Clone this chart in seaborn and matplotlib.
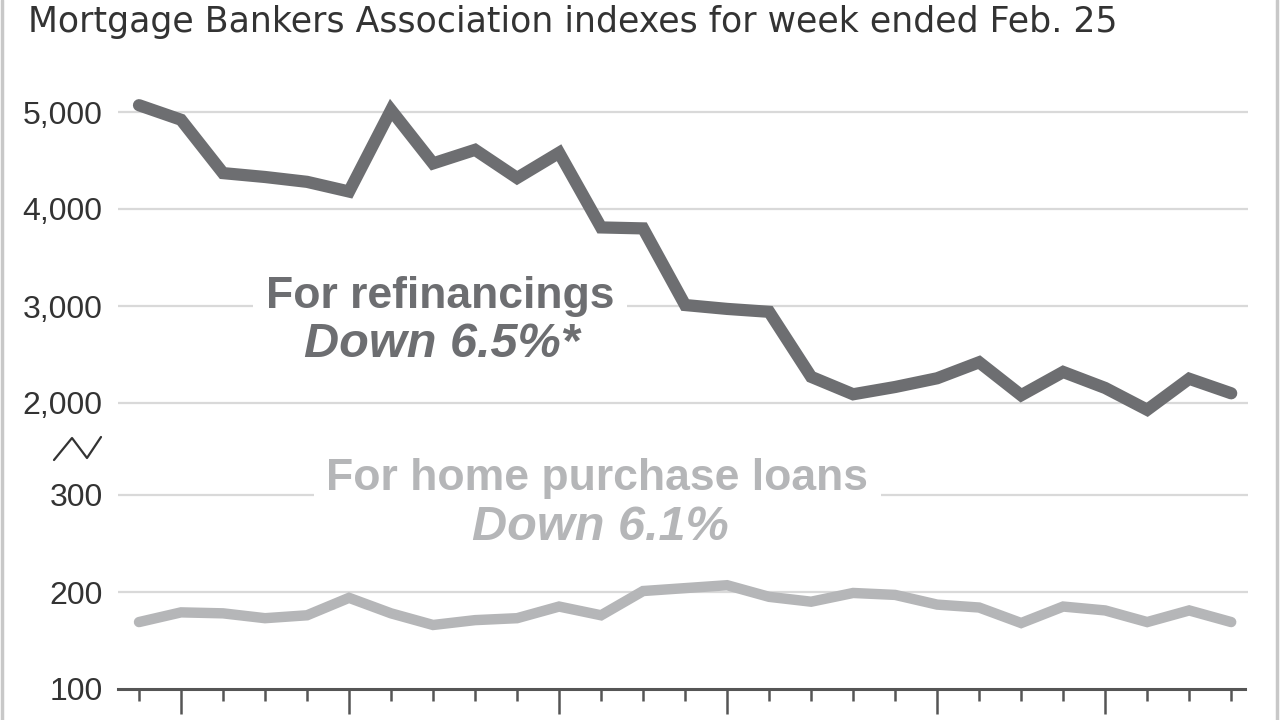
import numpy as np
import pandas as pd
import seaborn as sns
import matplotlib
matplotlib.use("Agg")
import matplotlib.pyplot as plt
from matplotlib.lines import Line2D

# ---- data (weekly index values) ----
weeks = list(range(27))
refinance = [5070, 4920, 4370, 4330, 4280, 4180, 5020, 4470, 4610, 4320,
             4580, 3810, 3800, 3010, 2970, 2940, 2270, 2090, 2165, 2255,
             2420, 2080, 2320, 2155, 1930, 2250, 2100]
purchase = [169, 179, 178, 173, 176, 194, 178, 166, 171, 173,
            185, 176, 201, 204, 207, 195, 190, 199, 197, 187,
            184, 168, 185, 181, 169, 181, 169]
top_ticks = [2000, 3000, 4000, 5000]
top_labels = ["2,000", "3,000", "4,000", "5,000"]
bottom_ticks = [100, 200, 300]
bottom_labels = ["100", "200", "300"]
major_weeks = [1, 5, 10, 14, 19, 23]
title = "Mortgage Bankers Association indexes for week ended Feb. 25"

df = pd.DataFrame({"week": weeks, "refinance": refinance, "purchase": purchase})

sns.set_theme(style="white")
plt.rcParams["font.family"] = ["Liberation Sans", "DejaVu Sans"]

DARK = "#6d6e71"
LIGHT = "#b5b6b8"
GRID = "#d9d9d9"
TEXT = "#333333"
AXIS = "#555555"

W, H = 1280, 720
fig = plt.figure(figsize=(12.8, 7.2), dpi=100)
fig.patch.set_facecolor("white")

def fx(px):
    return px / W

def fy(py):
    return 1 - py / H

left, right = 118, 1248
# top panel: pixel rows 92..413
ax_top = fig.add_axes([fx(left), fy(413), fx(right - left), (413 - 92) / H])
# bottom panel: pixel rows 420..689
ax_bot = fig.add_axes([fx(left), fy(689), fx(right - left), (689 - 420) / H])

xlim = (-0.5, 26.4)
# top y-range: 5000 at y=112, 2000 at y=403 (97 px per 1000)
ax_top.set_ylim(2000 - (413 - 403) / 0.097, 5000 + (112 - 92) / 0.097)
ax_bot.set_ylim(100, 100 + (689 - 420) / 0.97)

for ax in (ax_top, ax_bot):
    ax.set_xlim(*xlim)
    ax.set_facecolor("none")
    for s in ax.spines.values():
        s.set_visible(False)
    ax.yaxis.grid(True, color=GRID, linewidth=1.6)
    ax.set_axisbelow(True)
    ax.tick_params(axis="y", length=0, pad=11, labelsize=23, labelcolor=TEXT)

sns.lineplot(data=df, x="week", y="refinance", ax=ax_top, color=DARK,
             linewidth=8.8, solid_joinstyle="miter", clip_on=False, zorder=5)
sns.lineplot(data=df, x="week", y="purchase", ax=ax_bot, color=LIGHT,
             linewidth=7.5, solid_joinstyle="miter", clip_on=False, zorder=5)
for ax in (ax_top, ax_bot):
    ax.set_xlabel("")
    ax.set_ylabel("")
    ax.set_xlim(*xlim)

ax_top.set_yticks(top_ticks)
ax_top.set_yticklabels(top_labels)
ax_top.set_xticks([])

ax_bot.set_yticks(bottom_ticks)
ax_bot.set_yticklabels(bottom_labels)
ax_bot.spines["bottom"].set_visible(True)
ax_bot.spines["bottom"].set_color(AXIS)
ax_bot.spines["bottom"].set_linewidth(2.2)
ax_bot.spines["bottom"].set_bounds(xlim[0], 26.33)
ax_bot.set_xticks(major_weeks)
ax_bot.set_xticks([w for w in weeks if w not in major_weeks], minor=True)
ax_bot.set_xticklabels([])
ax_bot.tick_params(axis="x", which="major", direction="out", length=18, width=1.8,
                   color=AXIS, bottom=True)
ax_bot.tick_params(axis="x", which="minor", direction="out", length=8.5, width=1.8,
                   color=AXIS, bottom=True)
ax_bot.yaxis.get_gridlines()[0].set_visible(False)

# labels on the lines
box = dict(facecolor="white", edgecolor="none", pad=9)
ax_top.text((440 - 139) / 42, 3103, "For refinancings", ha="center", va="center",
            fontsize=32, fontweight="bold", color=DARK, bbox=box, zorder=3)
ax_top.text((442 - 139) / 42, 2598, "Down 6.5%*", ha="center", va="center",
            fontsize=35, fontweight="bold", fontstyle="italic", color=DARK, zorder=3)
ax_bot.text((597 - 139) / 42, 317.5, "For home purchase loans", ha="center", va="center",
            fontsize=32, fontweight="bold", color=LIGHT, bbox=box, zorder=3)
ax_bot.text((600 - 139) / 42, 266, "Down 6.1%", ha="center", va="center",
            fontsize=35, fontweight="bold", fontstyle="italic", color=LIGHT, zorder=3)

# title
fig.text(fx(28), fy(32), title, ha="left", va="baseline", fontsize=25, color=TEXT,
         family=["DejaVu Sans"])

# axis-break mark
fig.add_artist(Line2D([fx(54), fx(72), fx(87), fx(101)], [fy(460), fy(438), fy(458), fy(437)],
                      color=TEXT, linewidth=1.6))

# frame edges
fig.add_artist(Line2D([fx(2), fx(2)], [0, 1], color="#c8c8c8", linewidth=2.5))
fig.add_artist(Line2D([fx(1277), fx(1277)], [0, 1], color="#c8c8c8", linewidth=2.5))

fig.savefig("out.png", dpi=100, facecolor="white")
